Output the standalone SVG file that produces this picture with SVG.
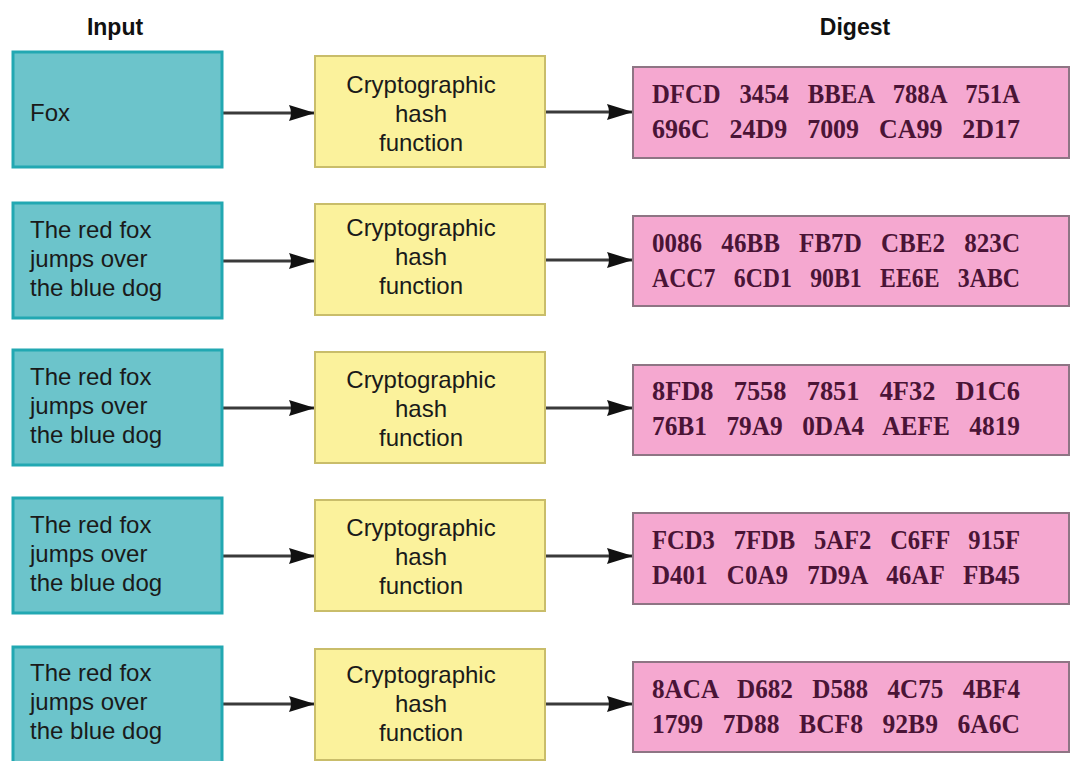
<svg xmlns="http://www.w3.org/2000/svg" width="1072" height="761" viewBox="0 0 1072 761">
<defs>
<style>
.in{fill:#6cc4cb;stroke:#22a8b2;stroke-width:3}
.fn{fill:#fbf29c;stroke:#c9bd6a;stroke-width:2}
.dg{fill:#f5a8d0;stroke:#8e7584;stroke-width:2}
.t{font-family:"Liberation Sans",Arial,sans-serif;font-size:24px;fill:#1a1a1a}
.h{font-family:"Liberation Sans",Arial,sans-serif;font-size:23px;font-weight:bold;fill:#111}
.d{font-family:"Liberation Serif","DejaVu Serif",serif;font-size:27px;font-weight:bold;fill:#4a1436;word-spacing:14px}
.c{stroke:#3a3a3a;stroke-width:3;fill:none;marker-end:url(#ah)}
</style>
<marker id="ah" viewBox="0 0 26 18" refX="26" refY="9" markerWidth="26" markerHeight="18" markerUnits="userSpaceOnUse" orient="auto">
<path d="M0,1 Q4,9 0,17 L26,9 z" fill="#111"/>
</marker>
</defs>
<text class="h" x="115" y="35" text-anchor="middle">Input</text>
<text class="h" x="855" y="35" text-anchor="middle">Digest</text>

<g id="connectors">
<path class="c" d="M222,113 H315"/>
<path class="c" d="M545,112 H633"/>
<path class="c" d="M222,261 H315"/>
<path class="c" d="M545,260 H633"/>
<path class="c" d="M222,408 H315"/>
<path class="c" d="M545,408 H633"/>
<path class="c" d="M222,556 H315"/>
<path class="c" d="M545,556 H633"/>
<path class="c" d="M222,704 H315"/>
<path class="c" d="M545,704 H633"/>
</g>

<g id="input1"><rect class="in" x="13" y="52" width="209" height="115"/><text class="t" x="30" y="121">Fox</text></g>
<g id="input2"><rect class="in" x="13" y="203" width="209" height="115"/><text class="t" x="30" y="238">The red fox</text><text class="t" x="30" y="267">jumps over</text><text class="t" x="30" y="296">the blue dog</text></g>
<g id="input3"><rect class="in" x="13" y="350" width="209" height="115"/><text class="t" x="30" y="385">The red fox</text><text class="t" x="30" y="414">jumps over</text><text class="t" x="30" y="443">the blue dog</text></g>
<g id="input4"><rect class="in" x="13" y="498" width="209" height="115"/><text class="t" x="30" y="533">The red fox</text><text class="t" x="30" y="562">jumps over</text><text class="t" x="30" y="591">the blue dog</text></g>
<g id="input5"><rect class="in" x="13" y="647" width="209" height="116"/><text class="t" x="30" y="681">The red fox</text><text class="t" x="30" y="710">jumps over</text><text class="t" x="30" y="739">the blue dog</text></g>

<g id="hash1"><rect class="fn" x="315" y="56" width="230" height="111"/><text class="t" x="421" y="93" text-anchor="middle">Cryptographic</text><text class="t" x="421" y="122" text-anchor="middle">hash</text><text class="t" x="421" y="151" text-anchor="middle">function</text></g>
<g id="hash2"><rect class="fn" x="315" y="204" width="230" height="111"/><text class="t" x="421" y="236" text-anchor="middle">Cryptographic</text><text class="t" x="421" y="265" text-anchor="middle">hash</text><text class="t" x="421" y="294" text-anchor="middle">function</text></g>
<g id="hash3"><rect class="fn" x="315" y="352" width="230" height="111"/><text class="t" x="421" y="388" text-anchor="middle">Cryptographic</text><text class="t" x="421" y="417" text-anchor="middle">hash</text><text class="t" x="421" y="446" text-anchor="middle">function</text></g>
<g id="hash4"><rect class="fn" x="315" y="500" width="230" height="111"/><text class="t" x="421" y="536" text-anchor="middle">Cryptographic</text><text class="t" x="421" y="565" text-anchor="middle">hash</text><text class="t" x="421" y="594" text-anchor="middle">function</text></g>
<g id="hash5"><rect class="fn" x="315" y="649" width="230" height="111"/><text class="t" x="421" y="683" text-anchor="middle">Cryptographic</text><text class="t" x="421" y="712" text-anchor="middle">hash</text><text class="t" x="421" y="741" text-anchor="middle">function</text></g>

<g id="digest1"><rect class="dg" x="633" y="67" width="436" height="91"/><text class="d" x="652" y="103" textLength="368" lengthAdjust="spacingAndGlyphs">DFCD 3454 BBEA 788A 751A</text><text class="d" x="652" y="138" textLength="368" lengthAdjust="spacingAndGlyphs">696C 24D9 7009 CA99 2D17</text></g>
<g id="digest2"><rect class="dg" x="633" y="216" width="436" height="90"/><text class="d" x="652" y="252" textLength="368" lengthAdjust="spacingAndGlyphs">0086 46BB FB7D CBE2 823C</text><text class="d" x="652" y="287" textLength="368" lengthAdjust="spacingAndGlyphs">ACC7 6CD1 90B1 EE6E 3ABC</text></g>
<g id="digest3"><rect class="dg" x="633" y="365" width="436" height="90"/><text class="d" x="652" y="400" textLength="368" lengthAdjust="spacingAndGlyphs">8FD8 7558 7851 4F32 D1C6</text><text class="d" x="652" y="435" textLength="368" lengthAdjust="spacingAndGlyphs">76B1 79A9 0DA4 AEFE 4819</text></g>
<g id="digest4"><rect class="dg" x="633" y="513" width="436" height="91"/><text class="d" x="652" y="549" textLength="368" lengthAdjust="spacingAndGlyphs">FCD3 7FDB 5AF2 C6FF 915F</text><text class="d" x="652" y="584" textLength="368" lengthAdjust="spacingAndGlyphs">D401 C0A9 7D9A 46AF FB45</text></g>
<g id="digest5"><rect class="dg" x="633" y="662" width="436" height="90"/><text class="d" x="652" y="698" textLength="368" lengthAdjust="spacingAndGlyphs">8ACA D682 D588 4C75 4BF4</text><text class="d" x="652" y="733" textLength="368" lengthAdjust="spacingAndGlyphs">1799 7D88 BCF8 92B9 6A6C</text></g>
</svg>
